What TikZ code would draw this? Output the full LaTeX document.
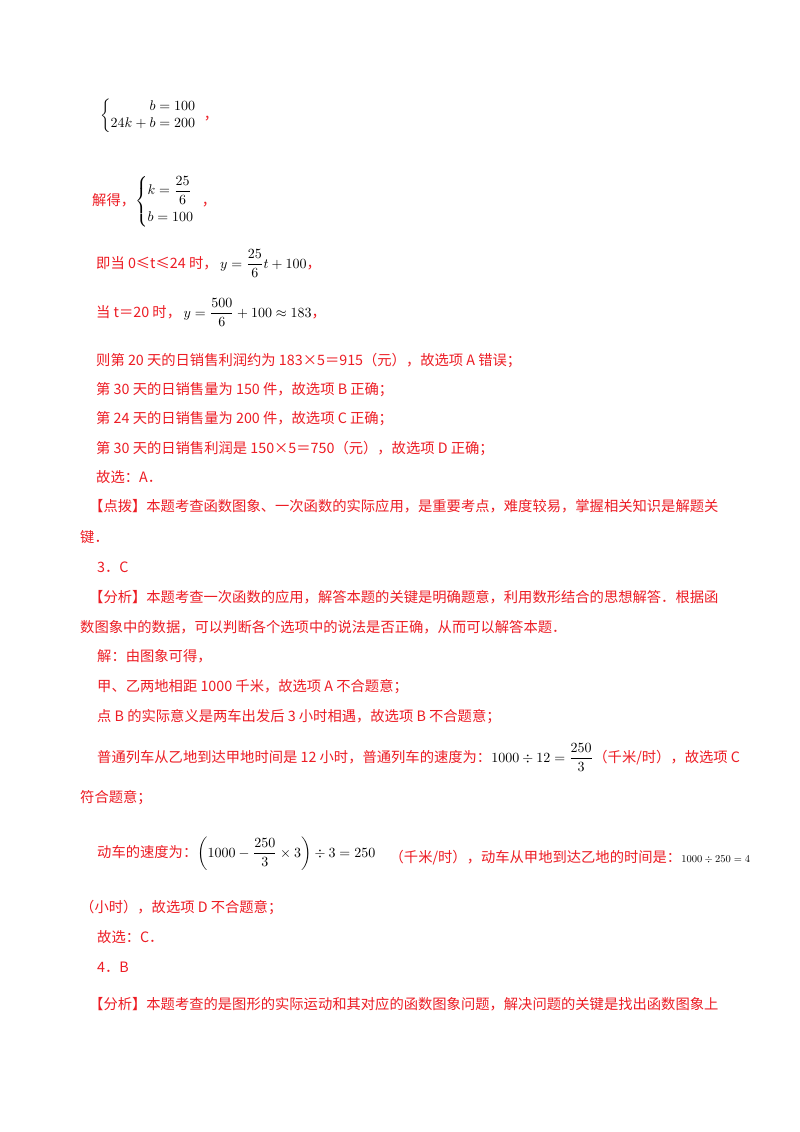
\documentclass[tikz,border=0pt]{standalone}
\usepackage{graphicx}
\usepackage{amsmath}
\usepackage{fontspec}
\setmainfont{Liberation Serif}
\newfontfamily\cj{Noto Sans CJK SC}
\definecolor{rd}{RGB}{237,28,36}
\newcommand{\R}[1]{{\cj\fontsize{14.3}{17}\selectfont\color{rd}#1}}
\newcommand{\M}[1]{\scalebox{1.4}{$\displaystyle #1$}}
\tikzset{ln/.style={anchor=base west,inner sep=0pt}}
\begin{document}
\begin{tikzpicture}[x=1pt,y=-1pt]
\useasboundingbox[fill=white] (0,0) rectangle (800,1132);
\node[ln] (l1) at (100,119) {\M{\left\{\begin{array}{@{}r@{}l}b&{}=100\\24k+b&{}=200\end{array}\right.}\R{，}};
\node[ln] (l2) at (92,205) {\R{解得，}\M{\left\{\begin{array}{@{}l}k=\dfrac{25}{6}\\[7pt] b=100\end{array}\right.}\R{，}};
\node[ln] (l3) at (96,268) {\R{即当 0≤t≤24 时，}\ \M{y=\frac{25}{6}t+100}\R{，}};
\node[ln] (l4) at (96,317) {\R{当 t＝20 时，}\ \M{y=\frac{500}{6}+100\approx183}\R{，}};
\node[ln] (l5) at (96,365) {\R{则第 20 天的日销售利润约为 183×5＝915（元），故选项 A 错误；}};
\node[ln] (l6) at (96,394) {\R{第 30 天的日销售量为 150 件，故选项 B 正确；}};
\node[ln] (l7) at (96,423) {\R{第 24 天的日销售量为 200 件，故选项 C 正确；}};
\node[ln] (l8) at (96,453) {\R{第 30 天的日销售利润是 150×5＝750（元），故选项 D 正确；}};
\node[ln] (l9) at (96,482) {\R{故选：A．}};
\node[ln] (l10) at (89,511) {\R{【点拨】本题考查函数图象、一次函数的实际应用，是重要考点，难度较易，掌握相关知识是解题关}};
\node[ln] (l11) at (80,542) {\R{键．}};
\node[ln] (l12) at (97,572) {\R{3．C}};
\node[ln] (l13) at (89,602) {\R{【分析】本题考查一次函数的应用，解答本题的关键是明确题意，利用数形结合的思想解答．根据函}};
\node[ln] (l14) at (80,632) {\R{数图象中的数据，可以判断各个选项中的说法是否正确，从而可以解答本题．}};
\node[ln] (l15) at (97,661) {\R{解：由图象可得，}};
\node[ln] (l16) at (97,691) {\R{甲、乙两地相距 1000 千米，故选项 A 不合题意；}};
\node[ln] (l17) at (97,721) {\R{点 B 的实际意义是两车出发后 3 小时相遇，故选项 B 不合题意；}};
\node[ln] (l18) at (97,762) {\R{普通列车从乙地到达甲地时间是 12 小时，普通列车的速度为：}\M{1000\div12=\frac{250}{3}}\R{（千米/时），故选项 C}};
\node[ln] (l19) at (80,802) {\R{符合题意；}};
\node[ln] (l20) at (97,857) {\R{动车的速度为：}\M{\left(1000-\frac{250}{3}\times3\right)\div3=250}};
\node[ln] (l21) at ([xshift=14pt,yshift=-5pt]l20.base east) {\R{（千米/时），动车从甲地到达乙地的时间是：}\scalebox{1.05}{$1000\div250=4$}};
\node[ln] (l22) at (80,912) {\R{（小时），故选项 D 不合题意；}};
\node[ln] (l23) at (97,942) {\R{故选：C．}};
\node[ln] (l24) at (97,972) {\R{4．B}};
\node[ln] (l25) at (89,1009) {\R{【分析】本题考查的是图形的实际运动和其对应的函数图象问题，解决问题的关键是找出函数图象上}};
\end{tikzpicture}
\end{document}
